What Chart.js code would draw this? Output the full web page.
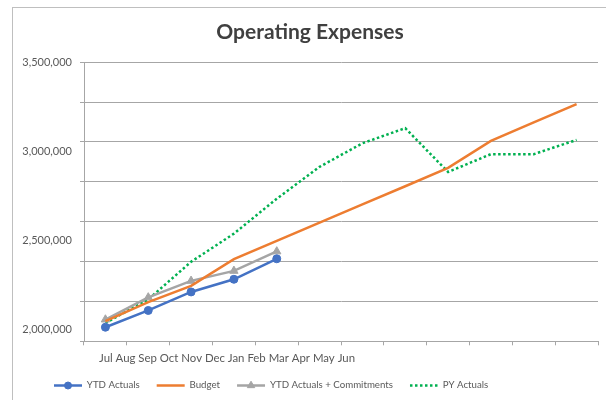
<!DOCTYPE html>
<html>
<head>
<meta charset="utf-8">
<script src="https://cdn.jsdelivr.net/npm/chart.js@4.4.1/dist/chart.umd.min.js"></script>
<style>
  body { margin: 0; background: #fff; }
  #wrap { position: relative; width: 606px; height: 400px; }
  #frame { position: absolute; left: 12px; top: 7px; right: 0; bottom: 0; border-left: 1px solid #bfbfbf; border-top: 1px solid #bfbfbf; }
  canvas { position: absolute; left: 0; top: 0; }
</style>
</head>
<body>
<div id="wrap">
  <div id="frame"></div>
  <canvas id="expenseChart" width="606" height="400"></canvas>
</div>
<script>
const months = ['Jul', 'Aug', 'Sep', 'Oct', 'Nov', 'Dec', 'Jan', 'Feb', 'Mar', 'Apr', 'May', 'Jun'];
const ytdActuals = [2013000, 2107000, 2211000, 2282000, 2397000, null, null, null, null, null, null, null];
const budget = [2047000, 2154000, 2245000, 2395000, 2498000, 2600000, 2702000, 2804000, 2907000, 3058000, 3162000, 3265000];
const ytdCommitments = [2056000, 2180000, 2273000, 2329000, 2438000, null, null, null, null, null, null, null];
const pyActuals = [2037000, 2169000, 2380000, 2538000, 2734000, 2913000, 3045000, 3130000, 2884000, 2984000, 2984000, 3064000];
const yTickLabels = [2000000, 2500000, 3000000, 3500000];

const yMin = 1934000;
const yMax = 3500000;
const gridColor = '#a6a6a6';
const textColor = '#595959';

Chart.defaults.font.family = 'Lato';

// nudges title/legend, draws the crammed month text and the legend line symbols
const extras = {
    id: 'extras',
    afterUpdate(chart) {
        const t = chart.titleBlock;
        t.left += 4; t.right += 4;
        const lg = chart.legend;
        const dx = 54 - lg.legendHitBoxes[0].left;
        lg.left += dx; lg.right += dx;
        lg.legendHitBoxes.forEach(h => { h.left += dx; });
    },
    afterDraw(chart) {
        const ctx = chart.ctx;
        const x = chart.scales.x;
        ctx.save();
        ctx.font = '11.4px Lato';
        ctx.fillStyle = textColor;
        ctx.textBaseline = 'middle';
        ctx.fillText(months.join(' '), x.left + 15, 358);

        const boxes = chart.legend.legendHitBoxes;
        chart.data.datasets.forEach((ds, i) => {
            const b = boxes[i];
            const cy = Math.round(b.top + b.height / 2) + 0.5;
            ctx.beginPath();
            ctx.strokeStyle = ds.borderColor;
            ctx.lineWidth = ds.borderWidth;
            ctx.setLineDash(ds.borderDash || []);
            ctx.moveTo(b.left, cy);
            ctx.lineTo(b.left + 28, cy);
            ctx.stroke();
            ctx.setLineDash([]);
            if (ds.pointRadius > 0) {
                ctx.fillStyle = ds.backgroundColor;
                ctx.strokeStyle = ds.borderColor;
                ctx.lineWidth = 1;
                Chart.helpers.drawPoint(ctx, {
                    pointStyle: ds.pointStyle,
                    radius: ds.pointRadius - 0.5,
                    borderWidth: 1
                }, b.left + 14, cy);
            }
        });
        ctx.restore();
    }
};

const ctx = document.getElementById('expenseChart').getContext('2d');
const expenseChart = new Chart(ctx, {
    type: 'line',
    data: {
        labels: months,
        datasets: [
            {
                label: 'YTD Actuals',
                data: ytdActuals,
                borderColor: '#4472c4',
                backgroundColor: '#4472c4',
                borderWidth: 2.5,
                pointStyle: 'circle',
                pointRadius: 4,
                pointBorderWidth: 1
            },
            {
                label: 'Budget',
                data: budget,
                borderColor: '#ed7d31',
                backgroundColor: '#ed7d31',
                borderWidth: 2.5,
                pointRadius: 0
            },
            {
                label: 'YTD Actuals + Commitments',
                data: ytdCommitments,
                borderColor: '#a5a5a5',
                backgroundColor: '#a5a5a5',
                borderWidth: 2.5,
                pointStyle: 'triangle',
                pointRadius: 4.8,
                pointBorderWidth: 1
            },
            {
                label: 'PY Actuals',
                data: pyActuals,
                borderColor: '#00b050',
                backgroundColor: '#00b050',
                borderWidth: 2.5,
                borderDash: [2.5, 2.5],
                pointRadius: 0
            }
        ]
    },
    options: {
        responsive: false,
        animation: false,
        devicePixelRatio: 1,
        layout: {
            padding: { left: 14, right: 8, top: 0, bottom: 0 }
        },
        plugins: {
            title: {
                display: true,
                text: 'Operating Expenses',
                color: '#404040',
                font: { size: 21, weight: 'bold' },
                padding: { top: 20, bottom: 17 }
            },
            legend: {
                position: 'bottom',
                labels: {
                    color: textColor,
                    font: { size: 9.7 },
                    boxWidth: 28,
                    padding: 17,
                    generateLabels: (chart) => {
                        return Chart.defaults.plugins.legend.labels.generateLabels(chart).map(item => {
                            item.fillStyle = 'rgba(0,0,0,0)';
                            item.strokeStyle = 'rgba(0,0,0,0)';
                            item.lineWidth = 0;
                            item.lineDash = [];
                            return item;
                        });
                    }
                }
            },
            tooltip: { enabled: false }
        },
        scales: {
            x: {
                offset: true,
                grid: { offset: true, drawOnChartArea: false, drawTicks: true, tickLength: 4, color: gridColor },
                border: { color: gridColor },
                ticks: { display: false },
                afterFit: (scale) => { scale.height = 22; }
            },
            y: {
                position: 'left',
                weight: 1,
                min: yMin,
                max: yMax,
                afterBuildTicks: (scale) => {
                    scale.ticks = yTickLabels.map(v => ({ value: v }));
                },
                grid: { display: false, drawTicks: false },
                border: { display: false },
                ticks: {
                    color: textColor,
                    font: { size: 11 },
                    padding: 7,
                    callback: (value) => value.toLocaleString('en-US')
                },
                afterFit: (scale) => { scale.width = 65; }
            },
            yGrid: {
                position: 'left',
                weight: 0,
                min: yMin,
                max: yMax,
                afterBuildTicks: (scale) => {
                    const step = (yMax - yMin) / 7;
                    scale.ticks = [0, 1, 2, 3, 4, 5, 6, 7].map(i => ({ value: yMin + step * i }));
                },
                grid: { color: gridColor, drawTicks: true, tickLength: 4 },
                border: { color: gridColor },
                ticks: { display: false },
                afterFit: (scale) => { scale.width = 5; }
            }
        }
    },
    plugins: [extras]
});
</script>
</body>
</html>
